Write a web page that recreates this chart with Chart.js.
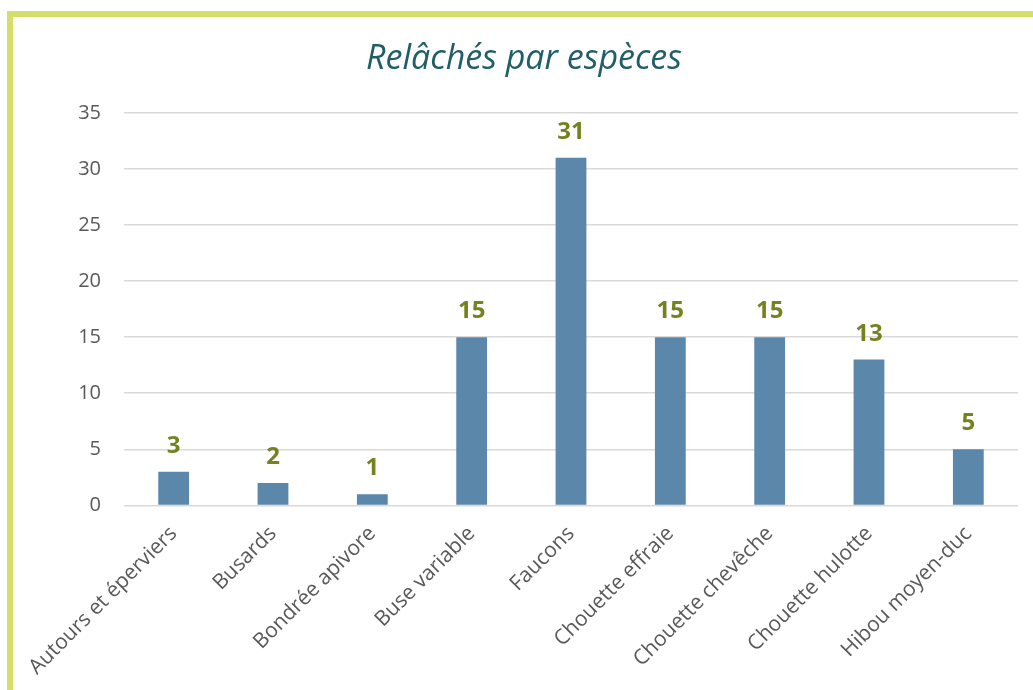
<!DOCTYPE html>
<html lang="fr">
<head>
    <meta charset="UTF-8">
    <title>Relâchés par espèces</title>
    <script src="https://cdn.jsdelivr.net/npm/chart.js"></script>
    <style>
        body { margin: 0; background: #fff; font-family: "Open Sans", sans-serif; }
        #frame {
            position: absolute; left: 7px; top: 11px; width: 1040px; height: 700px;
            border-left: 6px solid #d4df6a; border-top: 6px solid #d4df6a;
        }
        #wrap { position: absolute; left: 0; top: 0; width: 1033px; height: 690px; }
    </style>
</head>
<body>
    <div id="frame"></div>
    <div id="wrap"><canvas id="releaseChart"></canvas></div>
    <script>
        const species = ['Autours et éperviers', 'Busards', 'Bondrée apivore', 'Buse variable', 'Faucons',
            'Chouette effraie', 'Chouette chevêche', 'Chouette hulotte', 'Hibou moyen-duc'];
        const released = [3, 2, 1, 15, 31, 15, 15, 13, 5];
        const yTicks = [0, 5, 10, 15, 20, 25, 30, 35];

        // value labels above each bar
        const valueLabels = {
            id: 'valueLabels',
            afterDatasetsDraw(chart) {
                const ctx = chart.ctx;
                const meta = chart.getDatasetMeta(0);
                ctx.save();
                ctx.font = 'bold 24px "Open Sans"';
                ctx.fillStyle = '#76821f';
                ctx.textAlign = 'center';
                ctx.textBaseline = 'alphabetic';
                meta.data.forEach((bar, i) => {
                    ctx.fillText(released[i], bar.x, bar.y - 19);
                });
                ctx.restore();
            }
        };

        new Chart(document.getElementById('releaseChart'), {
            type: 'bar',
            data: {
                labels: species,
                datasets: [{
                    data: released,
                    backgroundColor: '#5b87ab',
                    barPercentage: 0.62,
                    categoryPercentage: 0.5
                }]
            },
            options: {
                responsive: true,
                maintainAspectRatio: false,
                animation: false,
                layout: { padding: { left: 30, right: 15, top: 0, bottom: 2 } },
                plugins: {
                    legend: { display: false },
                    tooltip: { enabled: false },
                    title: {
                        display: true,
                        text: 'Relâchés par espèces',
                        color: '#215e68',
                        font: { family: '"Open Sans"', size: 34, style: 'italic', weight: 'normal' },
                        padding: { top: 39, bottom: 33 }
                    }
                },
                scales: {
                    y: {
                        min: 0,
                        max: 35,
                        afterBuildTicks: s => { s.ticks = yTicks.map(v => ({ value: v })); },
                        afterFit: s => { s.width = 94; },
                        grid: { color: '#d9d9d9', lineWidth: 1.5, drawTicks: false },
                        border: { display: false },
                        ticks: { color: '#595959', padding: 23, font: { family: '"Open Sans"', size: 20 } }
                    },
                    x: {
                        grid: { display: false },
                        border: { display: false },
                        ticks: {
                            color: '#595959',
                            minRotation: 45,
                            maxRotation: 45,
                            padding: 8,
                            font: { family: '"Open Sans"', size: 21 }
                        }
                    }
                }
            },
            plugins: [valueLabels]
        });
    </script>
</body>
</html>
